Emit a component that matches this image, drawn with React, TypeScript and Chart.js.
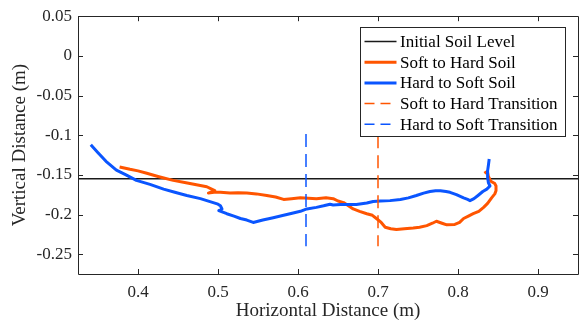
import React, { useEffect, useRef } from "react";
import { Chart, registerables } from "chart.js";

Chart.register(...registerables);

// ---- data ----
const soilLevelX = [0.325, 0.95];
const soilLevelY = [-0.155, -0.155];

const softToHardX = [0.377, 0.390, 0.400, 0.411, 0.425, 0.444, 0.460, 0.473, 0.486, 0.492, 0.496, 0.488, 0.495, 0.503, 0.515, 0.525, 0.536, 0.548, 0.561, 0.572, 0.582, 0.592, 0.603, 0.613, 0.623, 0.635, 0.644, 0.650, 0.657, 0.663, 0.669, 0.677, 0.686, 0.693, 0.698, 0.704, 0.709, 0.716, 0.723, 0.733, 0.744, 0.752, 0.761, 0.768, 0.773, 0.780, 0.786, 0.796, 0.802, 0.807, 0.813, 0.819, 0.826, 0.832, 0.837, 0.842, 0.846, 0.8475, 0.8475, 0.846, 0.841, 0.838, 0.837, 0.836, 0.833];
const softToHardY = [-0.140, -0.143, -0.145, -0.148, -0.152, -0.157, -0.160, -0.1625, -0.165, -0.168, -0.170, -0.173, -0.172, -0.172, -0.173, -0.1725, -0.173, -0.174, -0.176, -0.178, -0.181, -0.180, -0.179, -0.1795, -0.180, -0.179, -0.180, -0.183, -0.185, -0.189, -0.193, -0.196, -0.199, -0.201, -0.205, -0.210, -0.216, -0.218, -0.219, -0.218, -0.217, -0.216, -0.214, -0.211, -0.2085, -0.211, -0.213, -0.2125, -0.210, -0.205, -0.202, -0.199, -0.196, -0.191, -0.186, -0.179, -0.174, -0.170, -0.164, -0.161, -0.158, -0.152, -0.147, -0.146, -0.148];

const hardToSoftX = [0.341, 0.350, 0.360, 0.373, 0.385, 0.398, 0.415, 0.432, 0.446, 0.461, 0.478, 0.494, 0.500, 0.503, 0.505, 0.501, 0.511, 0.520, 0.528, 0.536, 0.544, 0.556, 0.569, 0.582, 0.594, 0.603, 0.611, 0.623, 0.632, 0.640, 0.644, 0.653, 0.665, 0.673, 0.686, 0.694, 0.703, 0.715, 0.728, 0.738, 0.748, 0.757, 0.765, 0.772, 0.778, 0.785, 0.790, 0.798, 0.807, 0.812, 0.815, 0.820, 0.825, 0.831, 0.836, 0.840, 0.838, 0.837, 0.837, 0.838, 0.839];
const hardToSoftY = [-0.112, -0.122, -0.133, -0.144, -0.150, -0.157, -0.162, -0.168, -0.172, -0.176, -0.180, -0.185, -0.187, -0.189, -0.193, -0.195, -0.199, -0.202, -0.205, -0.207, -0.210, -0.207, -0.204, -0.201, -0.198, -0.196, -0.193, -0.191, -0.189, -0.187, -0.188, -0.1875, -0.1875, -0.1875, -0.1855, -0.1835, -0.183, -0.1825, -0.181, -0.179, -0.176, -0.173, -0.171, -0.170, -0.170, -0.171, -0.172, -0.175, -0.179, -0.181, -0.1825, -0.180, -0.176, -0.171, -0.168, -0.164, -0.160, -0.153, -0.145, -0.138, -0.130];

const softToHardTransitionX = [0.70, 0.70];
const softToHardTransitionY = [-0.10, -0.24];
const hardToSoftTransitionX = [0.61, 0.61];
const hardToSoftTransitionY = [-0.0985, -0.24];

const xTicks = [0.4, 0.5, 0.6, 0.7, 0.8, 0.9];
const yTicks = [0.05, 0, -0.05, -0.1, -0.15, -0.2, -0.25];
const xRange = [0.325, 0.95];
const yRange = [-0.275, 0.05];

const seriesLabels = [
  "Initial Soil Level",
  "Soft to Hard Soil",
  "Hard to Soft Soil",
  "Soft to Hard Transition",
  "Hard to Soft Transition",
];

const ORANGE = "#ff5500";
const BLUE = "#0a55ff";
const AXIS = "#262626";
const FONT = "'Liberation Serif', 'Times New Roman', serif";

const zip = (xs: number[], ys: number[]) => xs.map((x, i) => ({ x, y: ys[i] }));
const fmt = (v: number) => String(Number(v.toFixed(3)));

const framePlugin = {
  id: "frame",
  afterDraw(chart: any) {
    const { ctx, chartArea: a, scales } = chart;
    const tl = 5;
    ctx.save();
    ctx.strokeStyle = AXIS;
    ctx.lineWidth = 1;
    ctx.beginPath();
    ctx.rect(Math.round(a.left) + 0.5, Math.round(a.top) + 0.5, Math.round(a.right - a.left), Math.round(a.bottom - a.top));
    for (const t of scales.x.ticks) {
      const px = Math.round(scales.x.getPixelForValue(t.value)) + 0.5;
      ctx.moveTo(px, a.bottom);
      ctx.lineTo(px, a.bottom - tl);
      ctx.moveTo(px, a.top);
      ctx.lineTo(px, a.top + tl);
    }
    for (const t of scales.y.ticks) {
      const py = Math.round(scales.y.getPixelForValue(t.value)) + 0.5;
      ctx.moveTo(a.left, py);
      ctx.lineTo(a.left + tl, py);
      ctx.moveTo(a.right, py);
      ctx.lineTo(a.right - tl, py);
    }
    ctx.stroke();

    // legend box
    const bx = 360.5, by = 27.5, bw = 205, bh = 109;
    ctx.fillStyle = "#ffffff";
    ctx.fillRect(bx, by, bw, bh);
    ctx.strokeStyle = AXIS;
    ctx.lineWidth = 1;
    ctx.strokeRect(bx, by, bw, bh);
    ctx.font = `17px ${FONT}`;
    ctx.textBaseline = "middle";
    ctx.textAlign = "left";
    const ds = chart.data.datasets;
    ds.forEach((d: any, i: number) => {
      const y = 41.5 + i * 20.7;
      ctx.save();
      ctx.strokeStyle = d.borderColor;
      ctx.lineWidth = d.borderWidth;
      ctx.setLineDash(d.borderDash ? [10, 6] : []);
      ctx.beginPath();
      ctx.moveTo(364.5, y);
      ctx.lineTo(396.5, y);
      ctx.stroke();
      ctx.restore();
      ctx.fillStyle = "#000000";
      ctx.fillText(d.label, 400, y + 1);
    });
    ctx.restore();
  },
};

export default function App() {
  const ref = useRef<HTMLCanvasElement>(null);
  useEffect(() => {
    document.body.style.margin = "0";
    const chart = new Chart(ref.current!, {
      type: "line",
      data: {
        datasets: [
          { label: seriesLabels[0], data: zip(soilLevelX, soilLevelY), borderColor: "#1a1a1a", borderWidth: 1.5, order: 5 },
          { label: seriesLabels[1], data: zip(softToHardX, softToHardY), borderColor: ORANGE, borderWidth: 3, order: 4 },
          { label: seriesLabels[2], data: zip(hardToSoftX, hardToSoftY), borderColor: BLUE, borderWidth: 3, order: 3 },
          { label: seriesLabels[3], data: zip(softToHardTransitionX, softToHardTransitionY), borderColor: ORANGE, borderWidth: 1.5, borderDash: [13, 7], order: 2 },
          { label: seriesLabels[4], data: zip(hardToSoftTransitionX, hardToSoftTransitionY), borderColor: BLUE, borderWidth: 1.5, borderDash: [13, 7], order: 1 },
        ] as any,
      },
      options: {
        responsive: false,
        animation: false,
        devicePixelRatio: 1,
        parsing: false as any,
        elements: { point: { radius: 0 }, line: { tension: 0, borderJoinStyle: "round", borderCapStyle: "butt" } as any },
        layout: { padding: { top: 14, right: 4, left: 0, bottom: 0 } },
        plugins: { legend: { display: false }, tooltip: { enabled: false } },
        scales: {
          x: {
            type: "linear",
            min: xRange[0],
            max: xRange[1],
            grid: { display: false, drawTicks: false },
            border: { display: false },
            afterBuildTicks: (s: any) => { s.ticks = xTicks.map((v) => ({ value: v })); },
            afterFit: (s: any) => { s.height = 52; },
            ticks: { color: AXIS, padding: 8, maxRotation: 0, font: { family: FONT, size: 17 }, callback: (v: any) => fmt(Number(v)) },
            title: { display: true, text: "Horizontal Distance (m)", color: AXIS, padding: { top: 0, bottom: 4 }, font: { family: FONT, size: 19 } },
          },
          y: {
            type: "linear",
            min: yRange[0],
            max: yRange[1],
            grid: { display: false, drawTicks: false },
            border: { display: false },
            afterBuildTicks: (s: any) => { s.ticks = yTicks.map((v) => ({ value: v })); },
            afterFit: (s: any) => { s.width = 78; },
            ticks: { color: AXIS, padding: 6, font: { family: FONT, size: 17 }, callback: (v: any) => fmt(Number(v)) },
            title: { display: true, text: "Vertical Distance (m)", color: AXIS, padding: { top: 9, bottom: 0 }, font: { family: FONT, size: 19 } },
          },
        },
      },
      plugins: [framePlugin],
    });
    return () => chart.destroy();
  }, []);
  return <canvas ref={ref} width={582} height={326} style={{ display: "block" }} />;
}
